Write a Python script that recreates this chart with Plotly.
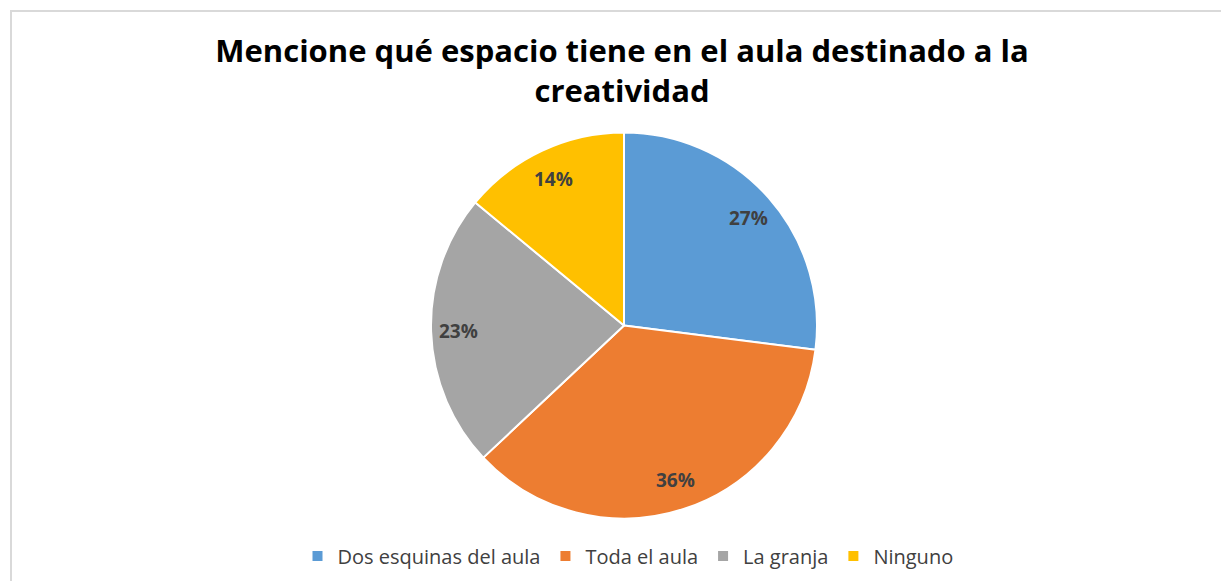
import math
import plotly.graph_objects as go

# Survey results: space in the classroom set aside for creativity
categories = ["Dos esquinas del aula", "Toda el aula", "La granja", "Ninguno"]
percentages = [27, 36, 23, 14]
colors = ["#5B9BD5", "#ED7D31", "#A5A5A5", "#FFC000"]

W, H = 1221, 581

# pie geometry in pixels
cx, cy, R = 624, 325.5, 193

fig = go.Figure(
    go.Pie(
        labels=categories,
        values=percentages,
        sort=False,
        direction="clockwise",
        rotation=0,
        marker=dict(colors=colors, line=dict(color="white", width=2)),
        textinfo="none",
        domain=dict(x=[(cx - R) / W, (cx + R) / W], y=[1 - (cy + R) / H, 1 - (cy - R) / H]),
        hoverinfo="label+percent",
    )
)

# data labels placed toward the outer part of each slice
total = sum(percentages)
annotations = []
cum = 0
for p in percentages:
    mid = (cum + p / 2) / total * 2 * math.pi
    cum += p
    lx = cx + 0.86 * R * math.sin(mid)
    ly = cy - 0.84 * R * math.cos(mid)
    annotations.append(
        dict(
            x=lx / W,
            y=1 - ly / H,
            xref="paper",
            yref="paper",
            text=f"{round(p / total * 100)}%",
            showarrow=False,
            xanchor="center",
            yanchor="middle",
            font=dict(family="Open Sans", size=19, color="#404040", weight="bold"),
        )
    )

fig.update_layout(
    width=W,
    height=H,
    margin=dict(l=0, r=0, t=0, b=0),
    paper_bgcolor="white",
    plot_bgcolor="white",
    title=dict(
        text="Mencione qué espacio tiene en el aula destinado a la<br>creatividad",
        x=622 / W,
        xanchor="center",
        y=1 - 62 / H,
        yanchor="top",
        font=dict(family="Open Sans", size=31, color="black", weight="bold"),
    ),
    legend=dict(
        orientation="h",
        x=628 / W,
        xanchor="center",
        y=1 - 556 / H,
        yanchor="middle",
        font=dict(family="Open Sans", size=20, color="#404040"),
        itemwidth=30,
        traceorder="normal",
    ),
    showlegend=True,
    annotations=annotations,
    shapes=[
        dict(
            type="rect",
            xref="paper",
            yref="paper",
            x0=11 / W,
            x1=1.01,
            y0=-0.01,
            y1=1 - 11 / H,
            line=dict(color="#D9D9D9", width=2),
            fillcolor="rgba(0,0,0,0)",
            layer="below",
        )
    ],
)

fig.write_html("out.html")
